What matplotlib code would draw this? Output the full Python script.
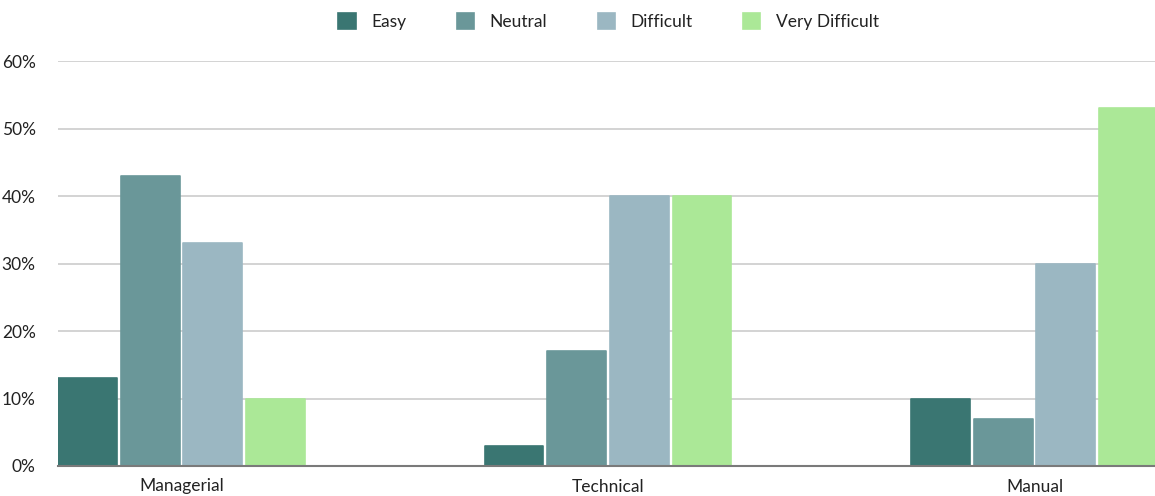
import matplotlib
matplotlib.use("Agg")
import matplotlib.pyplot as plt
import numpy as np
from matplotlib.ticker import FuncFormatter

categories = ["Managerial", "Technical", "Manual"]
series_names = ["Easy", "Neutral", "Difficult", "Very Difficult"]
easy = [13, 3, 10]
neutral = [43, 17, 7]
difficult = [33, 40, 30]
very_difficult = [10, 40, 53]
colors = ["#3a7672", "#6a9799", "#9bb7c2", "#abe897"]

plt.rcParams["font.family"] = ["Lato", "DejaVu Sans"]

fig = plt.figure(figsize=(11.55, 4.96), dpi=100)
ax = fig.add_axes([58 / 1155, 1 - 466 / 496, 1 - 58 / 1155, (466 - 61) / 496])

x = np.arange(len(categories))
step = 0.147
width = 0.138
all_series = [easy, neutral, difficult, very_difficult]
handles = []
for i, (name, vals, col) in enumerate(zip(series_names, all_series, colors)):
    offs = (i - 1.5) * step
    b = ax.bar(x + offs, np.array(vals) / 100.0, width=width, color=col,
               edgecolor=col, linewidth=1.2, joinstyle="round", label=name,
               zorder=3)
    handles.append(b)

ax.set_xlim(-0.2896, 2.2825)
ax.set_ylim(0, 0.6)
ax.set_yticks(np.arange(0, 0.61, 0.1))
ax.yaxis.set_major_formatter(FuncFormatter(lambda v, p: f"{v * 100:.0f}%"))
ax.set_xticks(x)
ax.set_xticklabels(categories)

ax.grid(axis="y", color="#cccccc", linewidth=1.2, zorder=0)
ax.set_axisbelow(True)
for s in ["top", "right", "left"]:
    ax.spines[s].set_visible(False)
ax.spines["bottom"].set_color("#7a7a7a")
ax.spines["bottom"].set_linewidth(1.5)
ax.spines["bottom"].set_zorder(4)
ax.tick_params(axis="both", length=0, labelsize=12.5, colors="#222222")
ax.tick_params(axis="x", pad=9)
ax.tick_params(axis="y", pad=16)

fig.legend(handles=handles, labels=series_names, loc="upper center",
           bbox_to_anchor=(0.527, 1.005), ncol=4, frameon=False,
           fontsize=12.5, handlelength=1.0, handleheight=1.0,
           handletextpad=0.9, columnspacing=2.9, labelcolor="#222222")

fig.savefig("out.png", dpi=100)
